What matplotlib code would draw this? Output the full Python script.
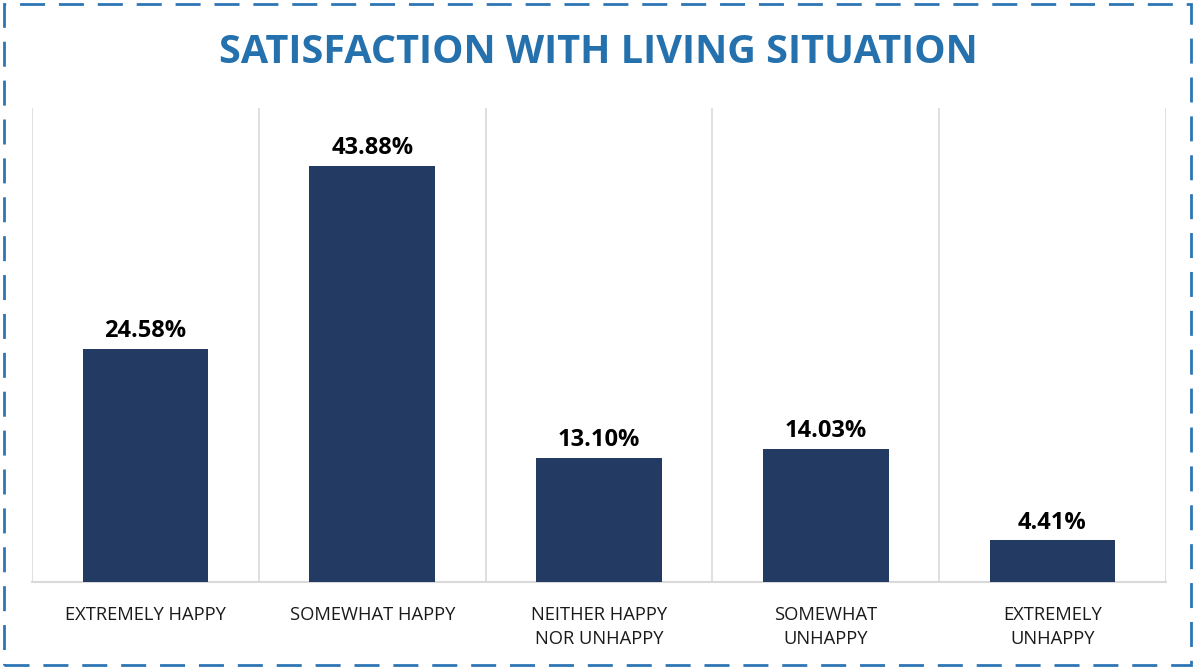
import matplotlib.pyplot as plt
from matplotlib.patches import Rectangle

categories = ["EXTREMELY HAPPY", "SOMEWHAT HAPPY", "NEITHER HAPPY\nNOR UNHAPPY",
              "SOMEWHAT\nUNHAPPY", "EXTREMELY\nUNHAPPY"]
values = [24.58, 43.88, 13.10, 14.03, 4.41]

plt.rcParams['font.family'] = ['Open Sans', 'DejaVu Sans']

fig = plt.figure(figsize=(11.96, 6.68), dpi=100)
ax = fig.add_axes([0.0268, 0.1287, 0.948, 0.7096])

x = list(range(len(values)))
ax.bar(x, values, width=0.555, color='#233a62', zorder=3)

# light separators between categories
for b in [i - 0.5 for i in range(len(values) + 1)]:
    ax.axvline(b, color='#d9d9d9', lw=1.2, zorder=1)

for xi, v in zip(x, values):
    ax.text(xi, v + 0.6, f"{v:.2f}%", ha='center', va='bottom',
            fontsize=17, fontweight='bold', color='black')

ax.set_xlim(-0.5, len(values) - 0.5)
ax.set_ylim(0, 50)
ax.set_yticks([])
ax.set_xticks(x)
ax.set_xticklabels(categories, fontsize=13.2, color='#1a1a1a', linespacing=1.45)
ax.tick_params(axis='x', length=0, pad=17)
for s in ['top', 'left', 'right']:
    ax.spines[s].set_visible(False)
ax.spines['bottom'].set_color('#d9d9d9')
ax.spines['bottom'].set_linewidth(1.5)

fig.text(0.5, 0.922, "SATISFACTION WITH LIVING SITUATION", ha='center', va='center',
         fontsize=28.5, fontweight='bold', color='#2471ad')

# dashed frame around the whole chart
fig.patches.append(Rectangle((0.003, 0.004), 0.993, 0.99, transform=fig.transFigure,
                             fill=False, edgecolor='#2e75b6', lw=2,
                             linestyle=(0, (9, 5))))

fig.savefig('out.png', dpi=100)
